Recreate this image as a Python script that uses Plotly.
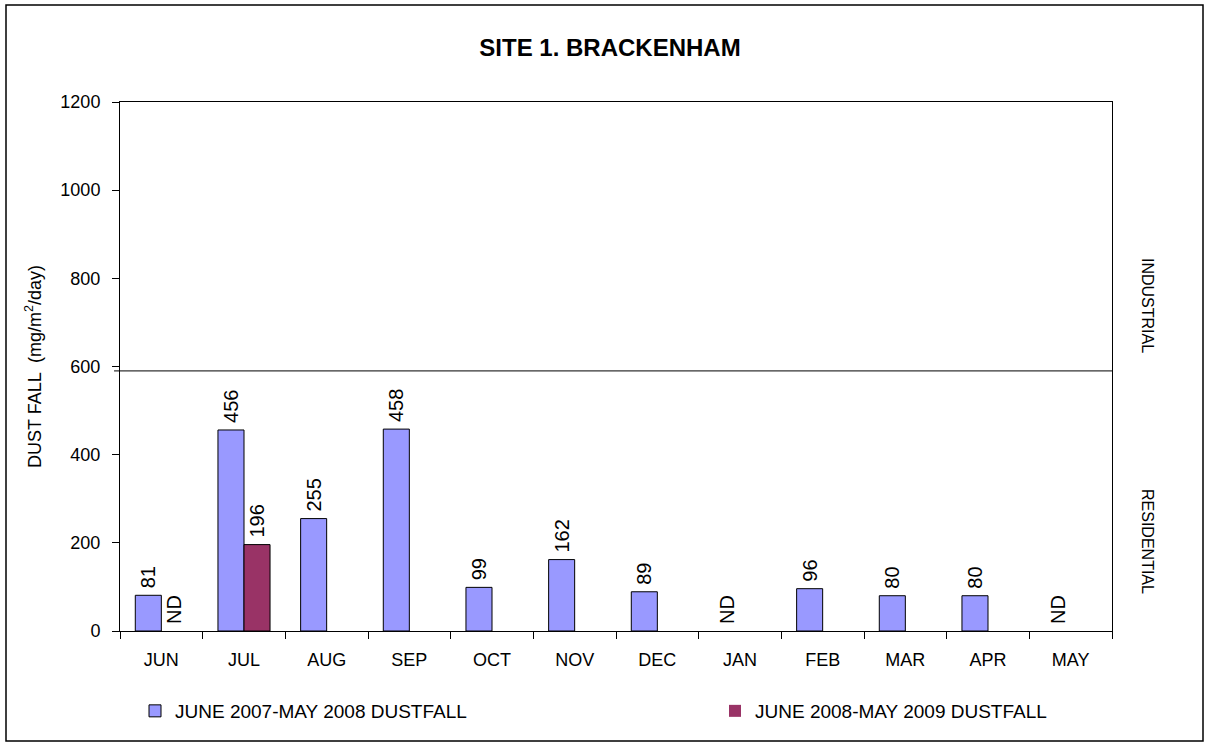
import plotly.graph_objects as go

months = ["JUN", "JUL", "AUG", "SEP", "OCT", "NOV", "DEC", "JAN", "FEB", "MAR", "APR", "MAY"]
series1_name = "JUNE 2007-MAY 2008 DUSTFALL"
series2_name = "JUNE 2008-MAY 2009 DUSTFALL"
# "ND" = no data (labelled ND), None = nothing shown
series1 = [81, 456, 255, 458, 99, 162, 89, "ND", 96, 80, 80, "ND"]
series2 = ["ND", 196, None, None, None, None, None, None, None, None, None, None]
limit_value = 590
zone_labels = ["INDUSTRIAL", "RESIDENTIAL"]

FONT = "Liberation Sans, Arial, sans-serif"
PAD = "\u2009"  # small lift of the rotated labels above the bar tops


def to_bar(vals):
    ys, texts, lw = [], [], []
    for v in vals:
        if v == "ND":
            ys.append(0)
            texts.append(PAD + "ND")
            lw.append(0)
        elif v is None:
            ys.append(None)
            texts.append("")
            lw.append(0)
        else:
            ys.append(v)
            texts.append(PAD + str(v))
            lw.append(1)
    return ys, texts, lw


y1, t1, w1 = to_bar(series1)
y2, t2, w2 = to_bar(series2)

fig = go.Figure()
fig.add_trace(go.Bar(
    x=months, y=y1, text=t1, name=series1_name, legend="legend",
    marker=dict(color="#9999FF", line=dict(color="#000000", width=w1)),
    textposition="outside", textangle=-90, cliponaxis=False, constraintext="none",
    textfont=dict(family=FONT, size=20, color="#000000"),
))
fig.add_trace(go.Bar(
    x=months, y=y2, text=t2, name=series2_name, legend="legend2",
    marker=dict(color="#993366", line=dict(color="#000000", width=w2)),
    textposition="outside", textangle=-90, cliponaxis=False, constraintext="none",
    textfont=dict(family=FONT, size=20, color="#000000"),
))

fig.add_shape(type="line", xref="paper", yref="y", x0=-0.006, x1=1, y0=limit_value, y1=limit_value,
              line=dict(color="#000000", width=1))

W, H = 1206, 744
L, R, T, B = 120, 94, 102, 113
pw, ph = W - L - R, H - T - B

# outer frame
fig.add_shape(type="rect", xref="paper", yref="paper",
              x0=(6 - L) / pw, x1=(1203 - L) / pw,
              y0=(H - B - 741) / ph, y1=(H - B - 5) / ph,
              line=dict(color="#000000", width=1.5))

fig.add_annotation(xref="paper", yref="paper", x=(1148 - L) / pw, y=(H - B - 305) / ph,
                   xanchor="center", yanchor="middle",
                   text=zone_labels[0], textangle=90, showarrow=False,
                   font=dict(family=FONT, size=16, color="#000000"))
fig.add_annotation(xref="paper", yref="paper", x=(1148 - L) / pw, y=(H - B - 541) / ph,
                   xanchor="center", yanchor="middle",
                   text=zone_labels[1], textangle=90, showarrow=False,
                   font=dict(family=FONT, size=16, color="#000000"))

legend_common = dict(orientation="h", xref="container", yref="container",
                     xanchor="left", yanchor="middle",
                     font=dict(family=FONT, size=19, color="#000000"),
                     bgcolor="rgba(0,0,0,0)")

fig.update_layout(
    width=W, height=H,
    margin=dict(l=L, r=R, t=T, b=B),
    paper_bgcolor="#FFFFFF", plot_bgcolor="#FFFFFF",
    font=dict(family=FONT, size=18, color="#000000"),
    title=dict(text="<b>SITE 1. BRACKENHAM</b>", x=610 / W, xanchor="center",
               y=1 - 48 / H, yanchor="middle", font=dict(family=FONT, size=24, color="#000000")),
    barmode="group", bargap=0.37, bargroupgap=0,
    showlegend=True,
    legend=dict(x=135 / W, y=1 - 711 / H, **legend_common),
    legend2=dict(x=715 / W, y=1 - 711 / H, **legend_common),
    xaxis=dict(showline=True, linecolor="#000000", linewidth=1, mirror=True,
               ticks="outside", tickson="boundaries", ticklen=7, tickcolor="#000000",
               ticklabelstandoff=12,
               tickfont=dict(family=FONT, size=18, color="#000000"),
               showgrid=False, zeroline=False),
    yaxis=dict(range=[0, 1200], dtick=200, showline=True, linecolor="#000000", linewidth=1,
               mirror=True, ticks="outside", ticklen=7, tickcolor="#000000",
               ticklabelstandoff=8,
               tickfont=dict(family=FONT, size=18, color="#000000"),
               showgrid=False, zeroline=False,
               title=dict(text="DUST FALL  (mg/m<sup>2</sup>/day)", standoff=14,
                          font=dict(family=FONT, size=18, color="#000000"))),
)

fig.write_html("out.html", config={"displayModeBar": False},
               post_script="document.body.style.margin='0';")
